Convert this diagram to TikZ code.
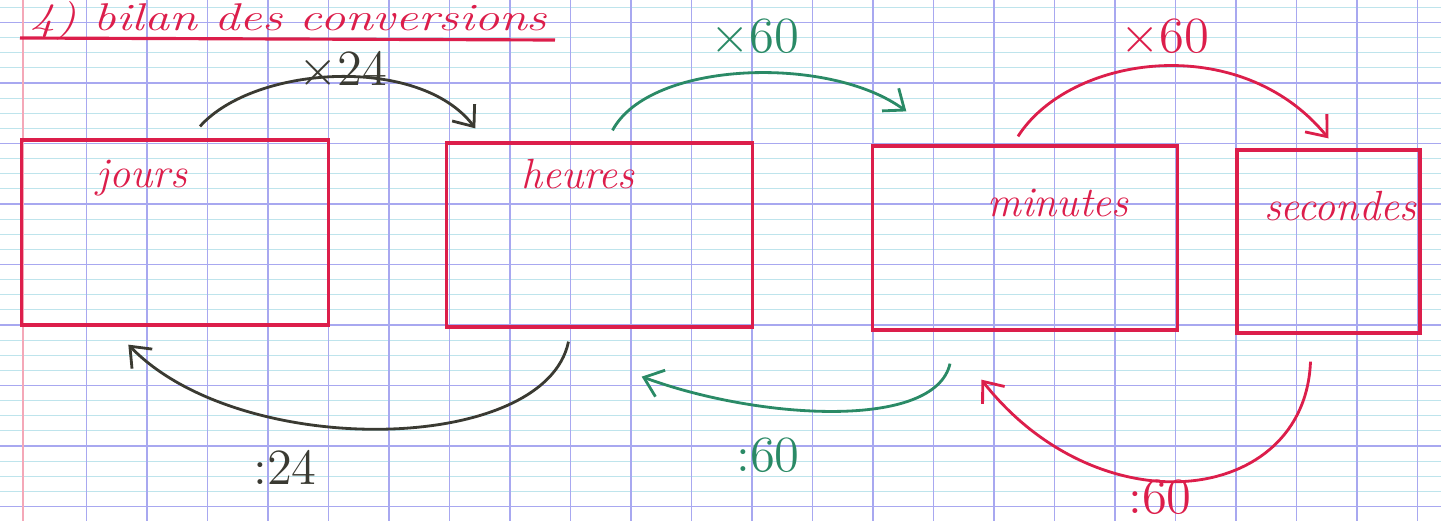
\documentclass[tikz,border=0pt]{standalone}
\usepackage{tikz}
\usetikzlibrary{arrows.meta}
\definecolor{inkred}{HTML}{DC1E4B}
\definecolor{inkgreen}{HTML}{2A8A66}
\definecolor{inkblack}{HTML}{3A3A32}
\definecolor{gridmain}{HTML}{A8A8F0}
\definecolor{gridfine}{HTML}{BEE4EC}
\definecolor{marginred}{HTML}{F4A8B8}

\begin{document}
\begin{tikzpicture}[x=0.01cm, y=-0.01cm,
  every node/.style={font=\normalsize},
  unit/.style={draw=inkred, line width=0.9pt, minimum width=3.05cm,
               minimum height=1.84cm, inner sep=0pt},
  word/.style={text=inkred, font=\itshape\large},
  arr/.style={-{Straight Barb[length=5pt, width=8pt]}, line width=0.8pt},
  lbl/.style={font=\Large, inner sep=1pt},
  gridmajor/.style={draw=gridmain, line width=0.3pt},
  gridminor/.style={draw=gridfine, line width=0.25pt}
]
\useasboundingbox (0,0) rectangle (1441,521);

% Graph paper
\foreach \k in {0,...,8} {
  \foreach \f in {15.1,30.25,45.4}
    \draw[gridminor] (0,{22.5+60.5*\k-60.5+\f}) -- (1441,{22.5+60.5*\k-60.5+\f});
}
\foreach \f in {15.1,30.25,45.4}
  \draw[gridminor] (0,{506.5+\f}) -- (1441,{506.5+\f});
\foreach \k in {0,...,8}
  \draw[gridmajor] (0,{22.5+60.5*\k}) -- (1441,{22.5+60.5*\k});
\foreach \k in {1,...,23}
  \draw[gridmajor] ({26+60.5*\k},0) -- ({26+60.5*\k},521);
\draw[marginred, line width=0.5pt] (23,0) -- (23,521);

% Title
\node[word, font=\itshape\fontsize{11}{13}\selectfont, anchor=base west, inner sep=0pt,
      transform shape, xscale=1.3]
  (title) at (30,31) {4) bilan des conversions};
\draw[inkred, line width=0.9pt] (20,38) -- (555,40);

% Units
\node[unit, minimum width=3.06cm, minimum height=1.85cm] (jours) at (175,232.5) {};
\node[unit] (heures) at (599.5,235) {};
\node[unit, minimum width=3.04cm] (minutes) at (1025,238) {};
\node[unit, minimum width=1.83cm, minimum height=1.83cm] (secondes) at (1328.5,241.5) {};

\node[word] (tjours) at (142,178) {jours};
\node[word] (theures) at (578,174) {heures};
\node[word] (tminutes) at (1058,203) {minutes};
\node[word] (tsecondes) at (1340,206) {secondes};

% Multiplications
\draw[arr, inkblack] ([shift={(25,-12)}]jours.north)
  .. controls (255,65) and (420,55) .. ([shift={(30,-13)}]heures.north west);
\draw[arr, inkgreen] ([shift={(13,-11)}]heures.north)
  .. controls (650,60) and (830,55) .. ([shift={(35,-33)}]minutes.north west);
\draw[arr, inkred] ([shift={(-7,-8)}]minutes.north)
  .. controls (1070,55) and (1240,30) .. ([shift={(0,-10)}]secondes.north);

\node[lbl, text=inkblack] (m24) at (343,71) {$\times$24};
\node[lbl, text=inkgreen] (m60a) at (755,38) {$\times$60};
\node[lbl, text=inkred] (m60b) at (1165,38) {$\times$60};

% Divisions
\draw[arr, inkblack] ([shift={(-31,13)}]heures.south)
  .. controls (545,455) and (240,460) .. ([shift={(108,18)}]jours.south west);
\draw[arr, inkgreen] ([shift={(-75,32)}]minutes.south)
  .. controls (935,430) and (760,420) .. ([shift={(-112,48)}]heures.south east);
\draw[arr, inkred] ([shift={(-18,27)}]secondes.south)
  .. controls (1305,505) and (1100,530) .. ([shift={(110,48)}]minutes.south west);

\node[lbl, text=inkblack] (d24) at (285,467) {:24};
\node[lbl, text=inkgreen] (d60a) at (768,455) {:60};
\node[lbl, text=inkred] (d60b) at (1160,497) {:60};
\end{tikzpicture}
\end{document}
